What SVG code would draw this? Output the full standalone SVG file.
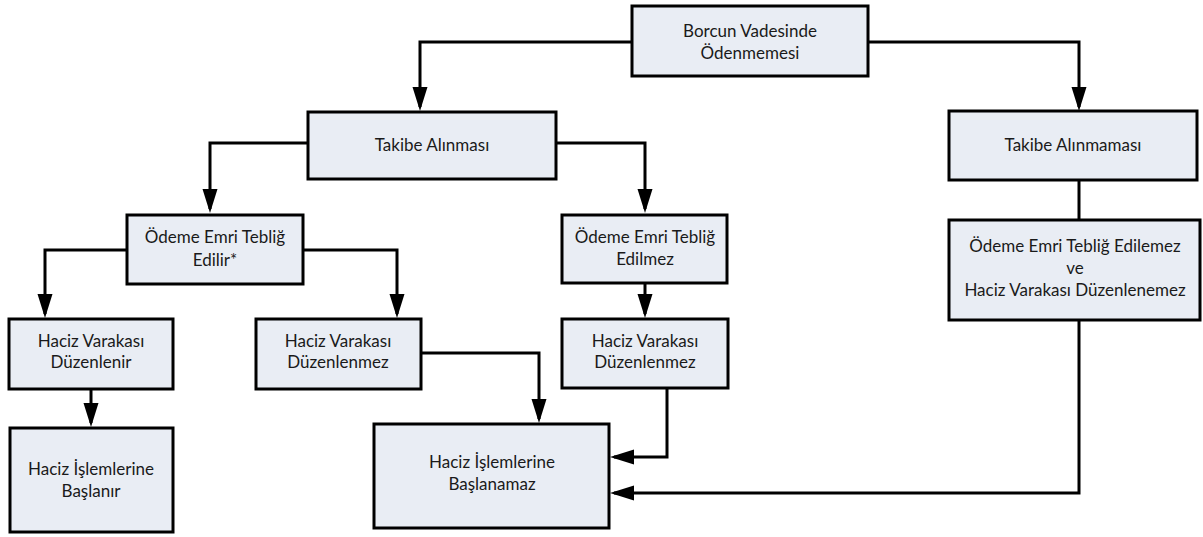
<svg xmlns="http://www.w3.org/2000/svg" width="1203" height="537" viewBox="0 0 1203 537">
<defs>
<style>
.box{fill:#e9edf4;stroke:#000;stroke-width:3}
.t{font-family:Lato,"Open Sans","Liberation Sans",sans-serif;font-size:17px;fill:#1a1a1a;text-anchor:middle}
.c{fill:none;stroke:#000;stroke-width:3}
</style>
<marker id="ah" markerUnits="userSpaceOnUse" markerWidth="24" markerHeight="16" viewBox="0 0 24 16" refX="20" refY="8" orient="auto">
<path d="M0,0.5 L24,8 L0,15.5 z" fill="#000"/>
</marker>
</defs>
<rect width="1203" height="537" fill="#fff"/>
<g id="connectors">
<path class="c" d="M632,42 H420 V107" marker-end="url(#ah)"/>
<path class="c" d="M868,42 H1079 V107" marker-end="url(#ah)"/>
<path class="c" d="M308,143 H210 V209" marker-end="url(#ah)"/>
<path class="c" d="M556,143 H645 V209" marker-end="url(#ah)"/>
<path class="c" d="M127,250 H45 V314" marker-end="url(#ah)"/>
<path class="c" d="M303,250 H397 V314" marker-end="url(#ah)"/>
<path class="c" d="M645,283 V314" marker-end="url(#ah)"/>
<path class="c" d="M91,389 V423" marker-end="url(#ah)"/>
<path class="c" d="M421,353 H539 V419" marker-end="url(#ah)"/>
<path class="c" d="M667,388 V457 H614" marker-end="url(#ah)"/>
<path class="c" d="M1079,180 V220"/>
<path class="c" d="M1079,320 V493 H614" marker-end="url(#ah)"/>
</g>
<g id="n1"><rect class="box" x="632" y="6" width="236" height="70"/><text class="t" x="750" y="37">Borcun Vadesinde</text><text class="t" x="750" y="59">Ödenmemesi</text></g>
<g id="n2"><rect class="box" x="308" y="112" width="248" height="67"/><text class="t" x="432" y="151">Takibe Alınması</text></g>
<g id="n3"><rect class="box" x="949" y="111" width="248" height="69"/><text class="t" x="1073" y="151">Takibe Alınmaması</text></g>
<g id="n4"><rect class="box" x="127" y="215" width="176" height="69"/><text class="t" x="215" y="243">Ödeme Emri Tebliğ</text><text class="t" x="215" y="266">Edilir*</text></g>
<g id="n5"><rect class="box" x="562" y="215" width="165" height="68"/><text class="t" x="645" y="243">Ödeme Emri Tebliğ</text><text class="t" x="645" y="265">Edilmez</text></g>
<g id="n6"><rect class="box" x="949" y="220" width="251" height="100"/><text class="t" x="1075" y="252">Ödeme Emri Tebliğ Edilemez</text><text class="t" x="1075" y="274">ve</text><text class="t" x="1075" y="296">Haciz Varakası Düzenlenemez</text></g>
<g id="n7"><rect class="box" x="9" y="319" width="164" height="70"/><text class="t" x="91" y="347">Haciz Varakası</text><text class="t" x="91" y="368">Düzenlenir</text></g>
<g id="n8"><rect class="box" x="256" y="319" width="165" height="70"/><text class="t" x="338" y="347">Haciz Varakası</text><text class="t" x="338" y="368">Düzenlenmez</text></g>
<g id="n9"><rect class="box" x="562" y="319" width="166" height="69"/><text class="t" x="645" y="347">Haciz Varakası</text><text class="t" x="645" y="368">Düzenlenmez</text></g>
<g id="n10"><rect class="box" x="10" y="428" width="163" height="104"/><text class="t" x="91" y="475">Haciz İşlemlerine</text><text class="t" x="91" y="497">Başlanır</text></g>
<g id="n11"><rect class="box" x="374" y="424" width="235" height="104"/><text class="t" x="492" y="468">Haciz İşlemlerine</text><text class="t" x="492" y="490">Başlanamaz</text></g>
</svg>
